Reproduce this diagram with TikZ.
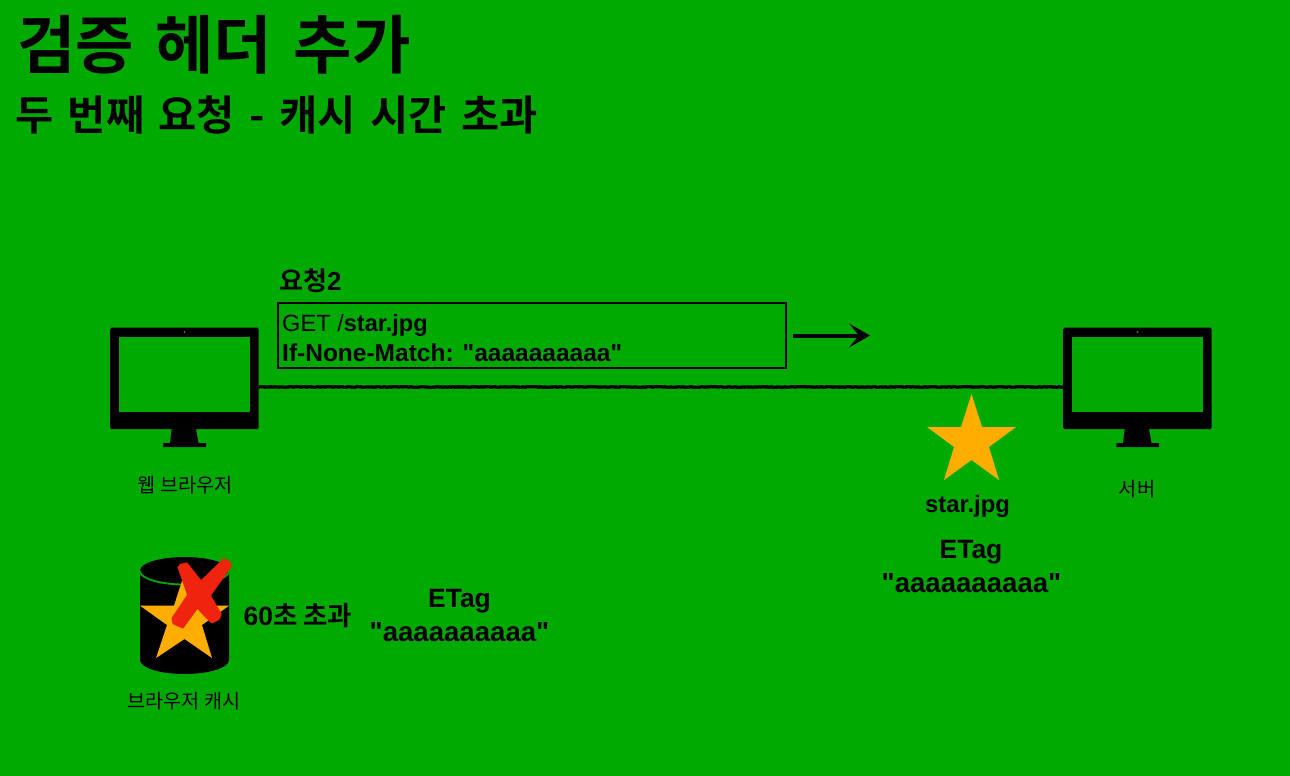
\documentclass[tikz,border=0pt]{standalone}
\usepackage{fontspec}
\setmainfont{Liberation Sans}[Ligatures=TeXOff]
\newfontfamily\kr{Noto Sans CJK KR}[BoldFont={Noto Sans CJK KR Bold}]
\usetikzlibrary{decorations.pathmorphing,arrows.meta}
\definecolor{bgc}{RGB}{0,170,0}
\definecolor{starc}{RGB}{255,173,0}
\definecolor{redc}{RGB}{240,35,15}
\tikzset{
  txt/.style={inner sep=0pt,text=black},
  wire/.style={black,line width=3.3pt,decorate,decoration={random steps,segment length=2pt,amplitude=0.4pt}},
  starshape/.style={fill=starc,draw=none},
  monbody/.style={fill=black,rounded corners=1.5pt,draw=none,inner sep=0pt,minimum width=148.5pt,minimum height=101.5pt},
  cross/.style={fill=redc,draw=redc,line width=2.2pt,line join=round},
}
\newcommand{\monitor}[2]{% name, left x
  \node[monbody,anchor=north west] (#1) at (#2,327.5) {};
  \fill[bgc] (#2+8.5,337) rectangle (#2+140,412);
  \fill[bgc] (#2+74.5,332) circle (1pt);
  \fill[black] (#2+61.7,429) -- (#2+86,429) -- (#2+88.5,443) -- (#2+96,443) -- (#2+96,447) -- (#2+53.3,447) -- (#2+53.3,443) -- (#2+60,443) -- cycle;
}
\begin{document}
\begin{tikzpicture}[x=1pt,y=-1pt]
\useasboundingbox (0,0) rectangle (1290,776);
\fill[bgc] (0,0) rectangle (1290,776);
% titles
\node[txt,anchor=base west] (title) at (17,69) {\kr\bfseries\fontsize{63.5}{64}\selectfont\spaceskip=21.5pt 검증 헤더 추가};
\node[txt,anchor=base west] (sub) at (15,130.5) {\kr\bfseries\fontsize{41.5}{41.5}\selectfont\spaceskip=14.5pt 두 번째 요청 - 캐시 시간 초과};
% monitors
\monitor{browser}{110}
\monitor{server}{1063}
\node[txt,anchor=base] (browserlabel) at (185,492) {\kr\fontsize{19.7}{19.7}\selectfont 웹 브라우저};
\node[txt,anchor=base] (serverlabel) at (1137,496) {\kr\fontsize{19.7}{19.7}\selectfont 서버};
% request
\node[txt,anchor=base west] (reqlabel) at (279,290) {\fontsize{26}{26}\selectfont\kr\bfseries 요청{\normalfont\rmfamily\bfseries 2}};
\node[draw=black,line width=2pt,inner sep=0pt,outer sep=0pt,minimum width=508.6pt,minimum height=65pt,anchor=north west] (req) at (277.7,303.3) {};
\node[txt,anchor=base west] (l1) at (282,331) {\fontsize{23.6}{23.6}\selectfont GET /\textbf{star.jpg}};
\node[txt,anchor=base west] (l2) at (282,361) {\fontsize{24.5}{24.5}\selectfont\textbf{If-None-Match: "aaaaaaaaaa"}};
% connectors
\coordinate (wa) at (259,387);
\coordinate (wb) at (1063,387);
\coordinate (aa) at (793,335.5);
\coordinate (ab) at (870,335.5);
\draw[wire] (wa) -- (wb);
\draw[black,line width=4pt,-{Stealth[length=21pt,width=24pt,inset=10pt]}] (aa) -- (ab);
% server star
\fill[starshape] (971.5,394) -- (982,427) -- (1016,427) -- (989,447) -- (999,480) -- (971.5,460) -- (944,480) -- (954,447) -- (927,427) -- (961,427) -- cycle;
\node[txt,anchor=base] (starname) at (967.5,512) {\fontsize{23.8}{23.8}\selectfont\textbf{star.jpg}};
\node[txt,anchor=base] (etag1) at (971,558) {\fontsize{26.5}{26.5}\selectfont\textbf{ETag}};
\node[txt,anchor=base] (etag1v) at (971.5,592) {\fontsize{27.6}{27.6}\selectfont\textbf{"aaaaaaaaaa"}};
% cache
\fill[black] (140,570.5) arc[start angle=180,end angle=360,x radius=44.5,y radius=13.5] -- (229,660) arc[start angle=0,end angle=180,x radius=44.5,y radius=14] -- cycle;
\draw[bgc,line width=1.8pt] (140,571) arc[start angle=180,end angle=0,x radius=44.5,y radius=13.5];
\fill[starshape] (184.5,573) -- (195,605.7) -- (229,605.7) -- (202,625) -- (212,658) -- (184.5,639) -- (156,658) -- (167,625) -- (140,605.7) -- (174,605.7) -- cycle;
\begin{scope}[shift={(100,540)},x=0.33333pt,y=-0.33333pt]
\path[cross] (236,82) -- (242,75) -- (260,71) -- (303,125) -- (330,168) -- (362,223) -- (355,237) -- (335,247) -- (292,202) -- (265,165) -- cycle;
\path[cross] (372,58) -- (389,68) -- (392,78) -- (330,165) -- (292,202) -- (248,262) -- (221,250) -- (218,235) -- (265,165) -- (303,125) -- cycle;
\end{scope}
\node[txt,anchor=base] (expire) at (298,625) {\fontsize{26.5}{26.5}\selectfont\textbf{60}\kr\bfseries 초 초과};
\node[txt,anchor=base] (etag2) at (459.5,607) {\fontsize{26.5}{26.5}\selectfont\textbf{ETag}};
\node[txt,anchor=base] (etag2v) at (459.5,641) {\fontsize{27.6}{27.6}\selectfont\textbf{"aaaaaaaaaa"}};
\node[txt,anchor=base] (cachelabel) at (184,708) {\kr\fontsize{19.6}{19.6}\selectfont 브라우저 캐시};
\end{tikzpicture}
\end{document}
